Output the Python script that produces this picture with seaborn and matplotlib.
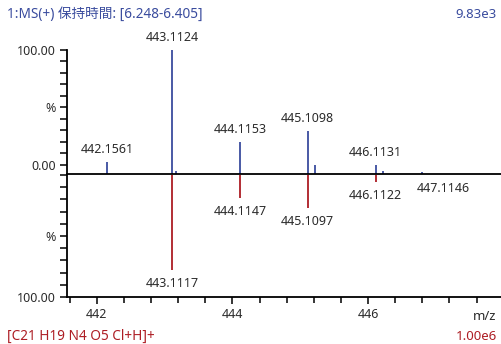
import numpy as np
import pandas as pd
import matplotlib
matplotlib.use("Agg")
import matplotlib.pyplot as plt
import seaborn as sns

# Measured spectrum (upper trace), intensity in % of base peak
meas_mz = [442.1561, 443.1124, 443.17, 444.1153, 445.1098, 445.21, 446.1131, 446.22, 446.80]
meas_int = [9.7, 100.0, 2.4, 25.8, 34.7, 7.3, 7.3, 2.4, 1.6]
meas_labels = ["442.1561", "443.1124", None, "444.1153", "445.1098", None, "446.1131", None, None]

# Theoretical isotope pattern (lower, mirrored trace)
theo_mz = [443.1117, 444.1147, 445.1097, 446.1122, 447.1146]
theo_int = [78.0, 19.0, 27.0, 6.0, 0.4]
theo_labels = ["443.1117", "444.1147", "445.1097", "446.1122", "447.1146"]

x_major = [442, 444, 446]
header_left = "1:MS(+) 保持時間: [6.248-6.405]"
header_right = "9.83e3"
footer_left = "[C21 H19 N4 O5 Cl+H]+"
footer_right = "1.00e6"

BLUE = "#3a4c9e"
RED = "#ad1d24"
TXT = "#2b2b2b"

sns.set_theme(style="white")
plt.rcParams["font.family"] = ["Noto Sans", "Noto Sans CJK JP", "DejaVu Sans"]
plt.rcParams["font.size"] = 9

meas = pd.DataFrame({"mz": meas_mz, "intensity": meas_int, "label": meas_labels})
theo = pd.DataFrame({"mz": theo_mz, "intensity": theo_int, "label": theo_labels})

W, H = 502, 344
fig = plt.figure(figsize=(W / 100, H / 100), dpi=100)
fig.patch.set_facecolor("white")

left, right = 67, 501
ax_top = fig.add_axes([left / W, 1 - 174 / H, (right - left) / W, 124 / H])
ax_bot = fig.add_axes([left / W, 1 - 297 / H, (right - left) / W, 122 / H], sharex=ax_top)

xlim = (441.56, 447.96)
tick_kw = dict(direction="out", length=5, width=1.1, color="black", labelsize=9, labelcolor=TXT, pad=3)

# ---- upper panel: measured ----
ax_top.vlines(meas["mz"], 0, meas["intensity"], color=BLUE, linewidth=1.3)
ax_top.set_xlim(*xlim)
ax_top.set_ylim(0, 100)
zero_tick = 7.3  # the 0.00 tick is drawn just above the baseline
top_ticks = np.linspace(zero_tick, 100, 11)
ax_top.set_yticks(top_ticks)
ax_top.set_yticklabels(["0.00"] + [""] * 4 + ["%"] + [""] * 4 + ["100.00"])
ax_top.tick_params(axis="y", left=True, **tick_kw)
ax_top.tick_params(axis="x", bottom=False, labelbottom=False)
for _, r in meas.iterrows():
    if r["label"]:
        ax_top.annotate(r["label"], (r["mz"], r["intensity"]), xytext=(0, 4),
                        textcoords="offset points", ha="center", va="bottom",
                        fontsize=9, color=TXT, annotation_clip=False)

# ---- lower panel: theoretical, mirrored ----
ax_bot.vlines(theo["mz"], 0, theo["intensity"], color=RED, linewidth=1.3)
ax_bot.set_ylim(100, 0)
ax_bot.set_yticks(np.arange(0, 101, 10))
ax_bot.set_yticklabels([""] * 5 + ["%"] + [""] * 4 + ["100.00"])
ax_bot.tick_params(axis="y", left=True, **tick_kw)
ax_bot.set_xticks(x_major)
ax_bot.set_xticks(np.round(np.arange(441.6, 447.7, 0.4), 1), minor=True)
ax_bot.set_xticklabels([str(v) for v in x_major])
ax_bot.tick_params(axis="x", which="both", bottom=True, **tick_kw)
ax_bot.tick_params(axis="x", which="minor", length=4)
for _, r in theo.iterrows():
    ax_bot.annotate(r["label"], (r["mz"], r["intensity"]), xytext=(0, -5),
                    textcoords="offset points", ha="center", va="top",
                    fontsize=9, color=TXT, annotation_clip=False)

for ax in (ax_top, ax_bot):
    ax.set_facecolor("white")
    for s in ("left", "bottom"):
        ax.spines[s].set_color("black")
        ax.spines[s].set_linewidth(1.3)
sns.despine(ax=ax_top, top=True, right=True)
sns.despine(ax=ax_bot, top=True, right=True)

fig.text(485 / W, 1 - 316 / H, "m/z", ha="center", va="center", fontsize=9.5, color=TXT)
fig.text(7 / W, 1 - 14 / H, header_left, ha="left", va="center", fontsize=9.8, color=BLUE)
fig.text(497 / W, 1 - 14 / H, header_right, ha="right", va="center", fontsize=9.5, color=BLUE)
fig.text(7 / W, 1 - 336 / H, footer_left, ha="left", va="center", fontsize=9.8, color=RED)
fig.text(497 / W, 1 - 336 / H, footer_right, ha="right", va="center", fontsize=9.5, color=RED)

fig.savefig("out.png", dpi=100, facecolor="white")
